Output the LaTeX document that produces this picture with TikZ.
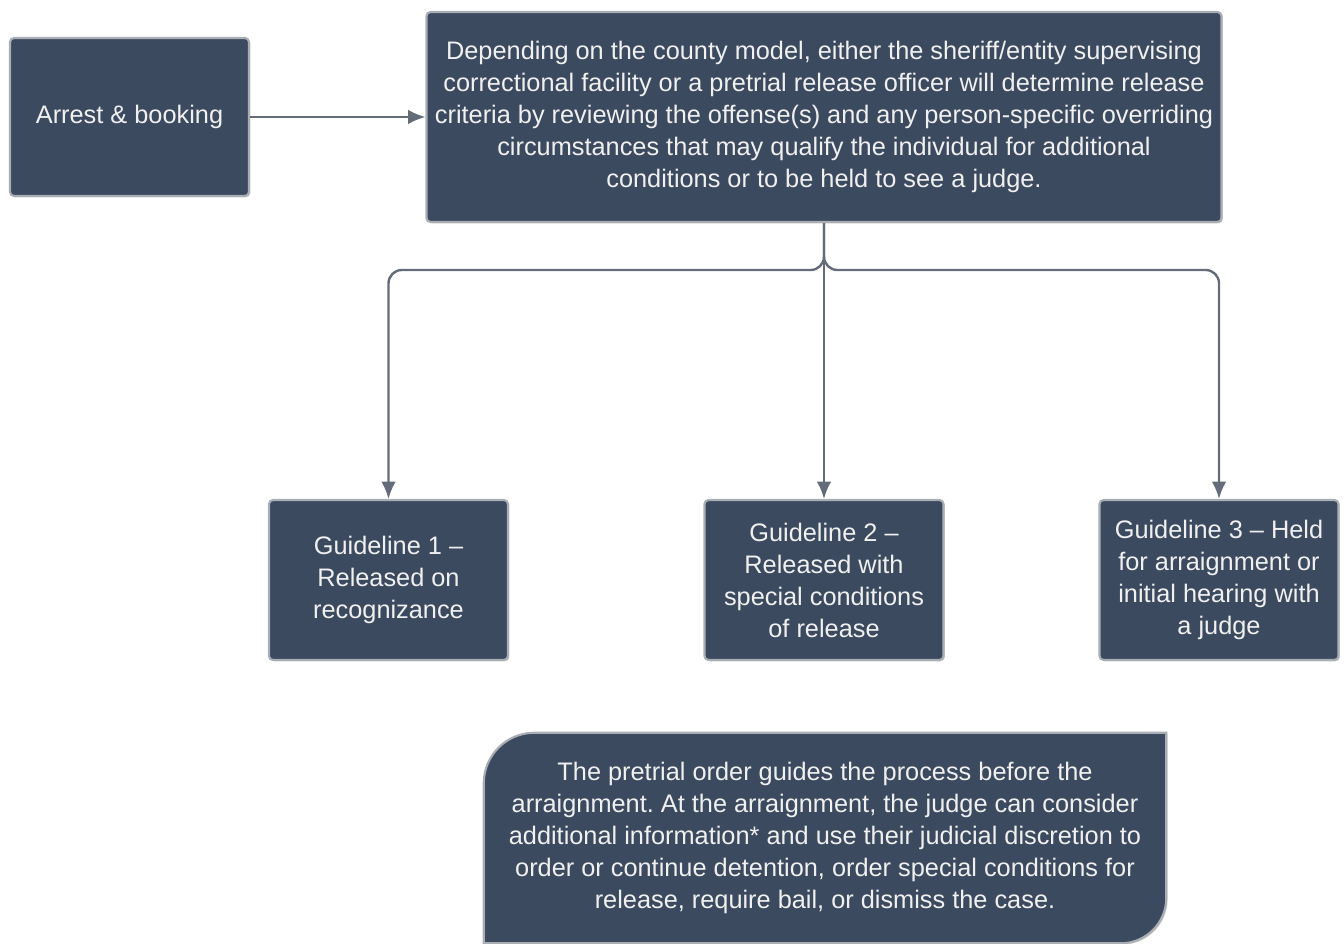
\documentclass[tikz,border=0pt]{standalone}
\usepackage{fontspec}
\setmainfont{Liberation Sans}
\frenchspacing
\usepackage{tikz}
\usetikzlibrary{arrows.meta, backgrounds, shadows}
\definecolor{boxfill}{HTML}{3B4A5F}
\definecolor{boxline}{HTML}{A9AEB4}
\definecolor{linkcol}{HTML}{646C7A}
\tikzset{>={Latex[length=13pt,width=11pt]}}
\tikzset{
  stepbox/.style={draw=boxline, line width=1.6pt, fill=boxfill, rounded corners=3pt,
    text=white!94!black, align=center, font=\fontsize{19}{24}\selectfont,
    drop shadow={shadow xshift=1pt, shadow yshift=-1pt, opacity=.35}},
  link/.style={->, draw=linkcol, line width=1.8pt}
}

\begin{document}
\begin{tikzpicture}[x=0.75pt, y=-0.75pt]
\useasboundingbox (0,0) rectangle (1344,944);

\node[stepbox, minimum width=179.25pt, minimum height=118.5pt] (arrest) at (129.5,117)
{Arrest \& booking};
\node[stepbox, minimum width=596.25pt, minimum height=157.5pt] (review) at (824,117)
{Depending on the county model, either the sheriff/entity supervising\\
correctional facility or a pretrial release officer will determine release\\
criteria by reviewing the offense(s) and any person-specific overriding\\
circumstances that may qualify the individual for additional\\
conditions or to be held to see a judge.};

\node[stepbox, minimum width=179.25pt, minimum height=120pt] (guide1) at (388.5,580)
{Guideline 1 --\\ Released on\\ recognizance};
\node[stepbox, minimum width=179.25pt, minimum height=120pt] (guide2) at (824,580)
{Guideline 2 --\\ Released with\\ special conditions\\ of release};
\node[stepbox, minimum width=179.25pt, minimum height=120pt] (guide3) at (1219,580)
{Guideline 3 -- Held\\ for arraignment or\\ initial hearing with\\ a judge};

% note box at the bottom
\node[text=white!94!black, align=center, font=\fontsize{19}{24}\selectfont,
  minimum width=511.5pt, minimum height=157.5pt] (order) at (825,838)
{The pretrial order guides the process before the\\
arraignment. At the arraignment, the judge can consider\\
additional information* and use their judicial discretion to\\
order or continue detention, order special conditions for\\
release, require bail, or dismiss the case.};
\begin{scope}[on background layer]
\draw[draw=boxline, line width=1.6pt, fill=boxfill,
  drop shadow={shadow xshift=1pt, shadow yshift=-1pt, opacity=.35}]
  (order.south west) -- ([yshift=-38pt]order.north west)
  arc[start angle=180, end angle=90, radius=38pt] -- (order.north east)
  -- ([yshift=34pt]order.south east)
  arc[start angle=0, end angle=-90, radius=34pt] -- cycle;
\end{scope}

\coordinate (split) at (824,270);
\draw[link] (arrest) -- (review);
\draw[link] (review.south) -- (guide2.north);
\draw[link, rounded corners=10pt] (review.south) -- (split) -| (guide1.north);
\draw[link, rounded corners=10pt] (review.south) -- (split) -| (guide3.north);
\end{tikzpicture}
\end{document}
